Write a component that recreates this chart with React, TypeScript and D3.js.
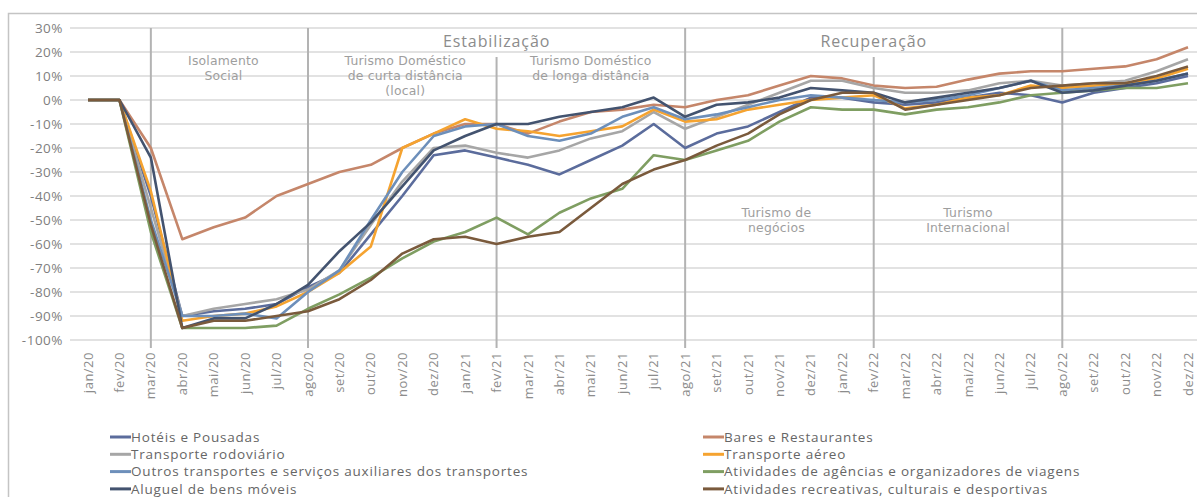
import React from 'react';
import * as d3 from 'd3';

// months jan/20 .. dez/22
const months = [
  'jan/20', 'fev/20', 'mar/20', 'abr/20', 'mai/20', 'jun/20', 'jul/20', 'ago/20', 'set/20', 'out/20', 'nov/20', 'dez/20',
  'jan/21', 'fev/21', 'mar/21', 'abr/21', 'mai/21', 'jun/21', 'jul/21', 'ago/21', 'set/21', 'out/21', 'nov/21', 'dez/21',
  'jan/22', 'fev/22', 'mar/22', 'abr/22', 'mai/22', 'jun/22', 'jul/22', 'ago/22', 'set/22', 'out/22', 'nov/22', 'dez/22',
];

const yTicks = [30, 20, 10, 0, -10, -20, -30, -40, -50, -60, -70, -80, -90, -100];

const hoteis = [0, 0, -40, -90, -88, -87, -85, -78, -72, -56, -40, -23, -21, -24, -27, -31, -25, -19, -10, -20, -14, -11, -5, 1, 1, -1, -2, -1, 1, 3, 2, -1, 3, 5, 7, 10];
const bares = [0, 0, -20, -58, -53, -49, -40, -35, -30, -27, -20, -14, -10, -10, -14, -9, -5, -4, -2, -3, 0, 2, 6, 10, 9, 6, 5, 5.5, 8.5, 11, 12, 12, 13, 14, 17, 22];
const rodoviario = [0, 0, -45, -90, -87, -85, -83, -79, -71, -52, -34, -20, -19, -22, -24, -21, -16, -13, -5, -12, -7, -2, 3, 8, 8, 5, 3, 3, 4, 7, 8, 6, 7, 8, 12, 17];
const aereo = [0, 0, -38, -92, -90, -89, -86, -80, -72, -61, -20, -14, -8, -12, -13, -15, -13, -11, -4, -9, -8, -4, -2, 0, 1, 2, -3.5, -2, 1, 2, 6, 5, 6, 7, 9, 13];
const outros = [0, 0, -50, -90, -90, -89, -91, -80, -71, -50, -30, -15, -11, -10, -15, -17, -14, -7, -3, -8, -6, -3, 0, 2, 1, 0, -1, 0, 2, 5, 8, 4, 5, 6, 8, 11];
const agencias = [0, 0, -55, -95, -95, -95, -94, -87, -81, -74, -66, -59, -55, -49, -56, -47, -41, -37, -23, -25, -21, -17, -9, -3, -4, -4, -6, -4, -3, -1, 2, 3, 4, 5, 5, 7];
const aluguel = [0, 0, -24, -95, -91, -91, -85, -77, -63, -51, -36, -21, -15, -10, -10, -7, -5, -3, 1, -7, -2, -1, 1, 5, 4, 3, -1, 1, 3, 5, 8, 3, 4, 6, 8, 11];
const recreativas = [0, 0, -52, -95, -92, -92, -90, -88, -83, -75, -64, -58, -57, -60, -57, -55, -45, -35, -29, -25, -19, -14, -6, 0, 3, 3, -4, -2, 0, 2, 5, 6, 7, 7, 10, 14];

const seriesNames = [
  'Hotéis e Pousadas',
  'Bares e Restaurantes',
  'Transporte rodoviário',
  'Transporte aéreo',
  'Outros transportes e serviços auxiliares dos transportes',
  'Atividades de agências e organizadores de viagens',
  'Aluguel de bens móveis',
  'Atividades recreativas, culturais e desportivas',
];
const seriesValues = [hoteis, bares, rodoviario, aereo, outros, agencias, aluguel, recreativas];
const seriesColors = ['#5b6c9c', '#c5866a', '#a6a6a6', '#f5a330', '#6d8fba', '#7f9e62', '#43536f', '#7a5a3c'];

// vertical phase separators
const dividers = [
  { m: 'mar/20', full: true },
  { m: 'ago/20', full: true },
  { m: 'fev/21', full: false },
  { m: 'ago/21', full: true },
  { m: 'fev/22', full: false },
  { m: 'ago/22', full: true },
];

const phaseTitles = [
  { text: 'Estabilização', from: 'ago/20', to: 'ago/21' },
  { text: 'Recuperação', from: 'ago/21', to: 'ago/22' },
];

const phaseNotes = [
  { lines: ['Isolamento', 'Social'], from: 'mar/20', to: 'ago/20', top: true, shift: -6 },
  { lines: ['Turismo Doméstico', 'de curta distância', '(local)'], from: 'ago/20', to: 'fev/21', top: true, shift: 3 },
  { lines: ['Turismo Doméstico', 'de longa distância'], from: 'fev/21', to: 'ago/21', top: true, shift: 0 },
  { lines: ['Turismo de', 'negócios'], from: 'ago/21', to: 'fev/22', top: false, shift: -3 },
  { lines: ['Turismo', 'Internacional'], from: 'fev/22', to: 'ago/22', top: false, shift: 0 },
];

const W = 1197;
const H = 497;
const FONT = '"Open Sans", "DejaVu Sans", sans-serif';
const NOTE_FONT = '"DejaVu Sans", "Open Sans", sans-serif';

export default function App() {
  const x = d3.scalePoint<string>().domain(months).range([88, 1188]);
  const y = d3.scaleLinear().domain([-100, 30]).range([340, 28]);

  const line = d3.line<number>()
    .x((_, i) => x(months[i]) as number)
    .y(d => y(d));

  const legendRows = [0, 1, 2, 3];

  return (
    <svg width={W} height={H} style={{ position: 'absolute', left: 0, top: 0, fontFamily: FONT }}>
      <rect x={8.5} y={13.5} width={W + 20} height={H + 20} fill="white" stroke="#c4c4c4" strokeWidth={1.5} />

      {/* horizontal grid */}
      {yTicks.map(t => (
        <line key={t} x1={70} x2={W} y1={y(t)} y2={y(t)} stroke="#d9d9d9" strokeWidth={1.5} />
      ))}

      {/* phase dividers */}
      {dividers.map(d => (
        <line key={d.m} x1={x(d.m)} x2={x(d.m)} y1={d.full ? y(30) : 57} y2={348} stroke="#b3b3b3" strokeWidth={2} />
      ))}

      {/* y labels */}
      {yTicks.map(t => (
        <text key={t} x={63} y={y(t)} dy="0.35em" textAnchor="end" fontSize={13.5} letterSpacing={0.5} fill="#7f7f7f">{`${t}%`}</text>
      ))}

      {/* x labels */}
      {months.map(m => (
        <text key={m} transform={`translate(${x(m)},352) rotate(-90)`} dy="0.35em" textAnchor="end" fontSize={13} letterSpacing={0.5} fill="#8c8c8c">{m}</text>
      ))}

      {/* phase titles */}
      {phaseTitles.map(p => (
        <text key={p.text} x={((x(p.from) as number) + (x(p.to) as number)) / 2} y={41} dy="0.35em" textAnchor="middle" fontSize={16} letterSpacing={0.9} fill="#8c8c8c">{p.text}</text>
      ))}
      {phaseNotes.map(p => {
        const cx = ((x(p.from) as number) + (x(p.to) as number)) / 2 + p.shift;
        const y0 = p.top ? 61 : 213;
        return p.lines.map((l, i) => (
          <text key={p.from + l} x={cx} y={y0 + i * 14.6} dy="0.35em" textAnchor="middle" fontFamily={NOTE_FONT} fontSize={12.4} letterSpacing={0.2} fill="#9e9e9e">{l}</text>
        ));
      })}

      {/* series */}
      {seriesValues.map((vals, i) => (
        <path key={seriesNames[i]} d={line(vals) || ''} fill="none" stroke={seriesColors[i]} strokeWidth={2.6} strokeLinejoin="round" />
      ))}

      {/* legend: left column has even series, right column odd */}
      {legendRows.map(r => [0, 1].map(c => {
        const idx = r * 2 + c;
        const lx = c === 0 ? 110 : 703;
        const ly = 437 + r * 17.3;
        return (
          <g key={idx}>
            <line x1={lx} x2={lx + 21} y1={ly} y2={ly} stroke={seriesColors[idx]} strokeWidth={3} />
            <text x={lx + 21} y={ly} dy="0.35em" fontSize={13.5} letterSpacing={0.8} fill="#666">{seriesNames[idx]}</text>
          </g>
        );
      }))}
    </svg>
  );
}
